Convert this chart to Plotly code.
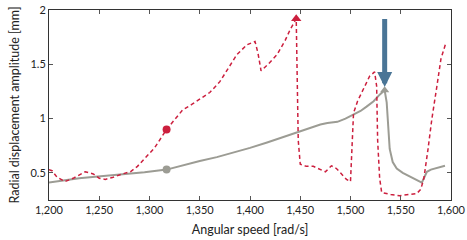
import plotly.graph_objects as go

# Red dashed series (with jumps)
red_x = [1200, 1203, 1208, 1216, 1224, 1236, 1244, 1250, 1256, 1264, 1273, 1281, 1288, 1296, 1305, 1317,
         1325, 1333, 1342, 1350, 1360, 1370, 1380, 1387, 1397, 1405, 1408, 1411, 1418, 1427, 1435, 1440,
         1446, 1447, 1448, 1450, 1456, 1463, 1470, 1475, 1481, 1486, 1490, 1496, 1500, 1501, 1503, 1507,
         1511, 1519, 1524, 1526, 1527, 1529, 1531, 1540, 1549, 1560, 1566, 1570, 1573, 1577, 1581, 1586,
         1590, 1595]
red_y = [0.53, 0.52, 0.46, 0.42, 0.45, 0.51, 0.49, 0.45, 0.44, 0.46, 0.49, 0.51, 0.56, 0.64, 0.73, 0.90,
         0.99, 1.08, 1.13, 1.18, 1.24, 1.34, 1.48, 1.59, 1.68, 1.71, 1.60, 1.44, 1.50, 1.59, 1.72, 1.82,
         1.92, 1.50, 0.80, 0.58, 0.56, 0.56, 0.53, 0.51, 0.565, 0.54, 0.50, 0.44, 0.42, 0.60, 1.05, 1.16,
         1.24, 1.39, 1.43, 1.30, 0.80, 0.45, 0.32, 0.30, 0.29, 0.30, 0.31, 0.35, 0.45, 0.71, 1.00, 1.30,
         1.55, 1.70]

# Grey solid series
grey_x = [1200, 1215, 1230, 1246, 1262, 1276, 1295, 1317, 1333, 1350, 1367, 1383, 1400, 1417, 1433, 1447,
          1460, 1470, 1477, 1487, 1495, 1503, 1510, 1516, 1523, 1529, 1534, 1536, 1538, 1539, 1542, 1546,
          1552, 1556, 1563, 1571, 1573, 1576, 1580, 1587, 1594]
grey_y = [0.41, 0.43, 0.45, 0.463, 0.475, 0.49, 0.505, 0.53, 0.57, 0.61, 0.645, 0.685, 0.73, 0.78, 0.83, 0.87,
          0.915, 0.945, 0.96, 0.97, 1.00, 1.04, 1.07, 1.11, 1.16, 1.22, 1.26, 1.15, 0.90, 0.72, 0.60, 0.54,
          0.50, 0.48, 0.45, 0.41, 0.45, 0.51, 0.53, 0.545, 0.565]

# Highlighted points
red_circle = (1317, 0.90)
grey_circle = (1317, 0.53)
red_triangle = (1446, 1.92)
grey_triangle = (1534, 1.26)
arrow_x = 1534
arrow_from = 1.93
arrow_to = 1.29

x_ticks = [1200, 1250, 1300, 1350, 1400, 1450, 1500, 1550, 1600]
x_labels = ["1,200", "1,250", "1,300", "1,350", "1,400", "1,450", "1,500", "1,550", "1,600"]
y_ticks = [0.5, 1, 1.5, 2]
y_labels = ["0.5", "1", "1.5", "2"]

RED = "#cc1f3e"
GREY = "#9c9c94"
BLUE = "#4a7596"
FONT = "Lato, DejaVu Sans, sans-serif"

fig = go.Figure()
fig.add_trace(go.Scatter(x=grey_x, y=grey_y, mode="lines",
                         line=dict(color=GREY, width=2), showlegend=False))
fig.add_trace(go.Scatter(x=red_x, y=red_y, mode="lines",
                         line=dict(color=RED, width=1.5, dash="4px,3px"), showlegend=False))
fig.add_trace(go.Scatter(x=[red_circle[0]], y=[red_circle[1]], mode="markers",
                         marker=dict(color=RED, size=8, symbol="circle"), showlegend=False))
fig.add_trace(go.Scatter(x=[grey_circle[0]], y=[grey_circle[1]], mode="markers",
                         marker=dict(color=GREY, size=8, symbol="circle"), showlegend=False))
fig.add_trace(go.Scatter(x=[red_triangle[0]], y=[red_triangle[1]], mode="markers",
                         marker=dict(color=RED, size=9, symbol="triangle-up"), showlegend=False))
fig.add_trace(go.Scatter(x=[grey_triangle[0]], y=[grey_triangle[1]], mode="markers",
                         marker=dict(color=GREY, size=8, symbol="triangle-up"), showlegend=False))

fig.add_annotation(x=arrow_x, y=arrow_to, ax=arrow_x, ay=arrow_from, axref="x", ayref="y",
                   xref="x", yref="y", text="", showarrow=True, arrowhead=2, arrowsize=0.6,
                   arrowwidth=5, arrowcolor=BLUE, standoff=0)

axis_common = dict(showline=True, linecolor="#333333", linewidth=1, mirror="ticks",
                   ticks="inside", ticklen=4, tickcolor="#555555", showgrid=False, zeroline=False,
                   automargin=False,
                   tickfont=dict(family=FONT, size=11, color="#222222"))

fig.update_xaxes(range=[1200, 1600], tickvals=x_ticks, ticktext=x_labels,
                 title=dict(text="Angular speed [rad/s]", standoff=10,
                            font=dict(family=FONT, size=12.5, color="#222222")),
                 **axis_common)
fig.update_yaxes(range=[0.25, 2.0], tickvals=y_ticks, ticktext=y_labels,
                 title=dict(text="Radial displacement amplitude [mm]", standoff=8,
                            font=dict(family=FONT, size=12.5, color="#222222")),
                 **axis_common)

fig.update_layout(width=467, height=240, margin=dict(l=49, r=16, t=10, b=40),
                  paper_bgcolor="white", plot_bgcolor="white")

fig.write_html("out.html", config={"displayModeBar": False},
               post_script="document.body.style.margin='0';")
